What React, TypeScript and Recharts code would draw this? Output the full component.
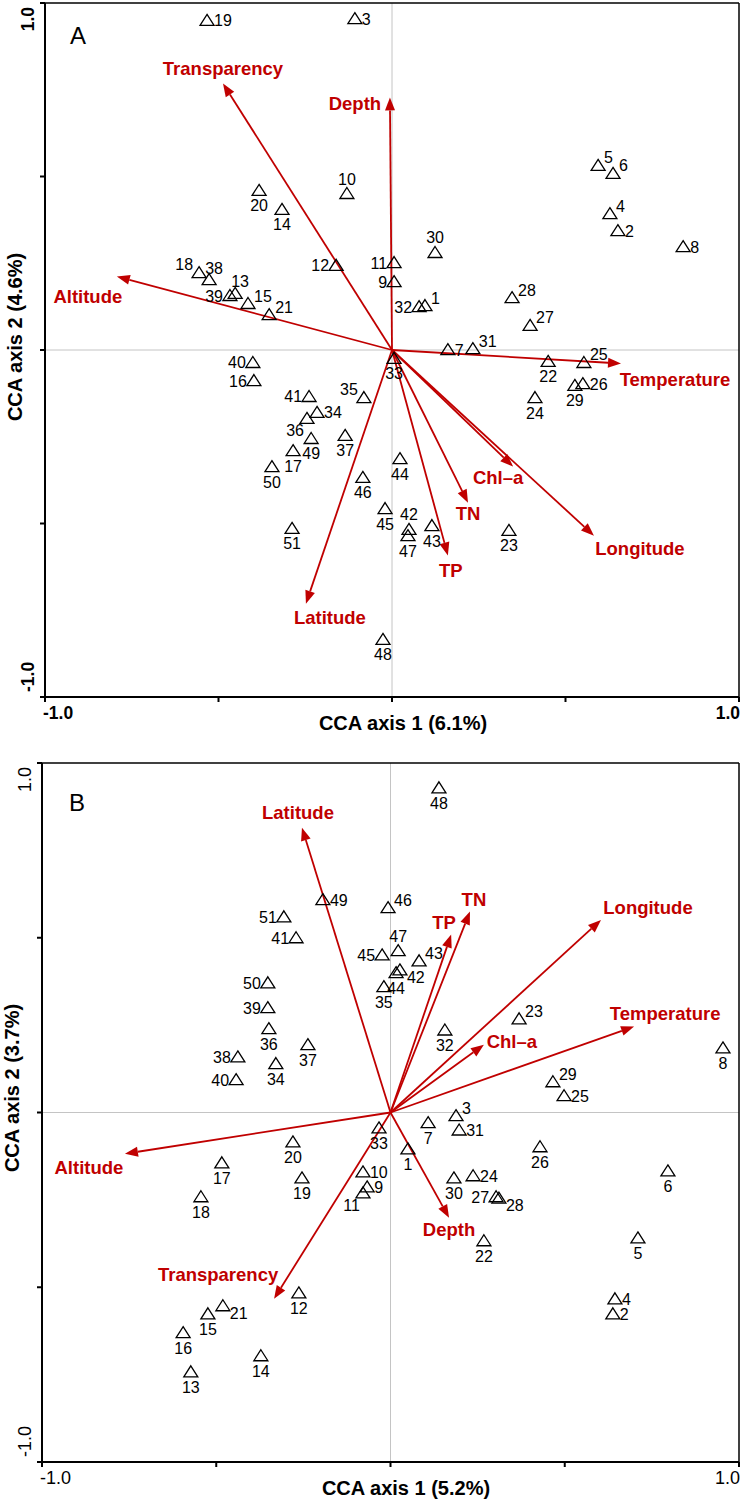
import { ScatterChart, Scatter, XAxis, YAxis, ReferenceLine } from 'recharts';

// CCA site scores, sites 1..51
const sites = [
  1, 2, 3, 4, 5, 6, 7, 8, 9, 10, 11, 12, 13, 14, 15, 16, 17, 18, 19, 20, 21, 22, 23, 24, 25, 26,
  27, 28, 29, 30, 31, 32, 33, 34, 35, 36, 37, 38, 39, 40, 41, 42, 43, 44, 45, 46, 47, 48, 49, 50, 51,
];

// panel A
const axis1A = [
  0.095, 0.651, -0.107, 0.628, 0.594, 0.637, 0.161, 0.839, 0.006, -0.13, 0.006, -0.161, -0.452,
  -0.317, -0.415, -0.398, -0.285, -0.556, -0.533, -0.383, -0.354, 0.45, 0.337, 0.412, 0.553, 0.55,
  0.398, 0.346, 0.527, 0.124, 0.233, 0.078, 0.006, -0.216, -0.081, -0.245, -0.135, -0.527, -0.467,
  -0.401, -0.239, 0.049, 0.115, 0.023, -0.02, -0.084, 0.046, -0.026, -0.233, -0.346, -0.288,
];
const axis2A = [
  0.128, 0.344, 0.955, 0.393, 0.532, 0.509, 0.001, 0.298, 0.197, 0.451, 0.252, 0.244, 0.163, 0.405,
  0.134, -0.088, -0.29, 0.223, 0.95, 0.46, 0.102, -0.033, -0.52, -0.137, -0.036, -0.097, 0.071,
  0.151, -0.102, 0.281, 0.004, 0.125, -0.024, -0.18, -0.137, -0.197, -0.246, 0.203, 0.157, -0.036,
  -0.134, -0.517, -0.506, -0.313, -0.457, -0.367, -0.535, -0.834, -0.255, -0.336, -0.514,
];

// panel B
const axis1B = [
  0.05, 0.638, 0.188, 0.644, 0.71, 0.796, 0.108, 0.954, -0.067, -0.079, -0.079, -0.263, -0.573,
  -0.372, -0.524, -0.595, -0.484, -0.544, -0.254, -0.28, -0.481, 0.268, 0.369, 0.237, 0.498, 0.429,
  0.303, 0.311, 0.466, 0.182, 0.197, 0.156, -0.033, -0.329, -0.019, -0.349, -0.237, -0.438, -0.352,
  -0.443, -0.271, 0.027, 0.082, 0.016, -0.024, -0.007, 0.022, 0.139, -0.194, -0.352, -0.306,
];
const axis2B = [
  -0.104, -0.576, -0.009, -0.533, -0.359, -0.167, -0.029, 0.185, -0.213, -0.17, -0.23, -0.516,
  -0.742, -0.696, -0.576, -0.63, -0.144, -0.241, -0.187, -0.084, -0.553, -0.367, 0.268, -0.181,
  0.048, -0.098, -0.241, -0.245, 0.088, -0.187, -0.05, 0.236, -0.044, 0.14, 0.36, 0.24, 0.194,
  0.159, 0.3, 0.094, 0.5, 0.408, 0.434, 0.4, 0.451, 0.586, 0.463, 0.929, 0.609, 0.371, 0.56,
];

// environmental variables (biplot arrows)
const envVars = ['Altitude', 'Transparency', 'Depth', 'Temperature', 'Chl–a', 'TN', 'TP', 'Longitude', 'Latitude'];
const envAxis1A = [-0.793, -0.487, -0.006, 0.66, 0.349, 0.219, 0.161, 0.582, -0.248];
const envAxis2A = [0.212, 0.768, 0.728, -0.039, -0.336, -0.44, -0.592, -0.535, -0.731];
const envAxis1B = [-0.762, -0.334, 0.168, 0.699, 0.268, 0.228, 0.174, 0.604, -0.254];
const envAxis2B = [-0.118, -0.533, -0.301, 0.246, 0.194, 0.575, 0.509, 0.551, 0.815];

const ticks = [-1, -0.5, 0, 0.5, 1];
const tickText = ['-1.0', '', '', '', '1.0'];

const RED = '#c00000';
const FONT = 'Liberation Sans, Arial, sans-serif';

// label placement around each triangle
const OFF: Record<string, { dx: number; dy: number; anchor: 'start' | 'middle' | 'end' }> = {
  r: { dx: 7, dy: 6, anchor: 'start' },
  l: { dx: -7, dy: 6, anchor: 'end' },
  a: { dx: 0, dy: -9, anchor: 'middle' },
  b: { dx: 0, dy: 21, anchor: 'middle' },
  ar: { dx: 6, dy: -2, anchor: 'start' },
  ac: { dx: -4, dy: -6, anchor: 'start' },
  al: { dx: -6, dy: -3, anchor: 'end' },
  br: { dx: 7, dy: 13, anchor: 'start' },
  bl: { dx: -3, dy: 18, anchor: 'end' },
};

const posA: Record<number, string> = {
  1: 'ar', 2: 'r', 3: 'r', 4: 'ar', 5: 'ar', 6: 'ar', 7: 'r', 8: 'r', 9: 'l', 10: 'a', 11: 'l', 12: 'l',
  13: 'ac', 14: 'b', 15: 'ar', 16: 'l', 17: 'b', 18: 'al', 19: 'r', 20: 'b', 21: 'ar', 22: 'b', 23: 'b',
  24: 'b', 25: 'ar', 26: 'r', 27: 'ar', 28: 'ar', 29: 'b', 30: 'a', 31: 'ar', 32: 'l', 33: 'b', 34: 'r',
  35: 'al', 36: 'bl', 37: 'b', 38: 'ac', 39: 'l', 40: 'l', 41: 'l', 42: 'a', 43: 'b', 44: 'b', 45: 'b',
  46: 'b', 47: 'b', 48: 'b', 49: 'b', 50: 'b', 51: 'b',
};
const posB: Record<number, string> = {
  1: 'b', 2: 'r', 3: 'ar', 4: 'r', 5: 'b', 6: 'b', 7: 'b', 8: 'b', 9: 'r', 10: 'r', 11: 'bl', 12: 'b',
  13: 'b', 14: 'b', 15: 'b', 16: 'b', 17: 'b', 18: 'b', 19: 'b', 20: 'b', 21: 'br', 22: 'b', 23: 'ar',
  24: 'r', 25: 'r', 26: 'b', 27: 'l', 28: 'br', 29: 'ar', 30: 'b', 31: 'r', 32: 'b', 33: 'b', 34: 'b',
  35: 'b', 36: 'b', 37: 'b', 38: 'l', 39: 'l', 40: 'l', 41: 'l', 42: 'br', 43: 'ar', 44: 'b', 45: 'l',
  46: 'ar', 47: 'a', 48: 'b', 49: 'r', 50: 'l', 51: 'l',
};

// arrow label centre relative to arrow tip
const envOffA: Record<string, [number, number]> = {
  Altitude: [-29, 20], Transparency: [0, -15], Depth: [-35, 6], Temperature: [54, 16],
  'Chl–a': [-15, 11], TN: [0, 11], TP: [3, 15], Longitude: [46, 13], Latitude: [24, 14],
};
const envOffB: Record<string, [number, number]> = {
  Altitude: [-36, 14], Transparency: [-56, -24], Depth: [0, 12], Temperature: [31, -13],
  'Chl–a': [28, -3], TN: [4, -12], TP: [-7, -12], Longitude: [47, -12], Latitude: [-4, -15],
};

function arrowShape(label: string, off: [number, number]) {
  return (p: any) => {
    const { x1, y1, x2, y2 } = p;
    const ang = Math.atan2(y2 - y1, x2 - x1);
    const len = 13;
    const hw = 5;
    const bx = x2 - len * Math.cos(ang);
    const by = y2 - len * Math.sin(ang);
    const nx = -Math.sin(ang) * hw;
    const ny = Math.cos(ang) * hw;
    return (
      <g>
        <line x1={x1} y1={y1} x2={bx} y2={by} stroke={RED} strokeWidth={1.8} />
        <polygon points={`${x2},${y2} ${bx + nx},${by + ny} ${bx - nx},${by - ny}`} fill={RED} />
        <text x={x2 + off[0]} y={y2 + off[1] + 6.5} textAnchor="middle" fill={RED}
          fontFamily={FONT} fontWeight="bold" fontSize={18.5}>{label}</text>
      </g>
    );
  };
}

function siteShape(pos: Record<number, string>) {
  return (p: any) => {
    const { cx, cy, payload } = p;
    const o = OFF[pos[payload.id]] || OFF.r;
    return (
      <g>
        <polygon points={`${cx},${cy - 6} ${cx + 7},${cy + 5} ${cx - 7},${cy + 5}`}
          fill="none" stroke="#000" strokeWidth={1.3} />
        <text x={cx + o.dx} y={cy + o.dy} textAnchor={o.anchor} fontFamily={FONT} fontSize={16} fill="#000">
          {payload.id}
        </text>
      </g>
    );
  };
}

interface PanelProps {
  letter: string;
  xTitle: string;
  yTitle: string;
  ax1: number[];
  ax2: number[];
  env1: number[];
  env2: number[];
  pos: Record<number, string>;
  envOff: Record<string, [number, number]>;
  bold: boolean;
  height: number;
  top: number;
  left: number;
  bottom: number;
  letterPos: [number, number];
  xTitlePos: [number, number];
  yTitlePos: [number, number];
}

function Panel(props: PanelProps) {
  const { ax1, ax2, env1, env2, bold } = props;
  const data = sites.map((id, i) => ({ id, x: ax1[i], y: ax2[i] }));
  const tickFont = { fontFamily: FONT, fontSize: bold ? 17.5 : 18, fontWeight: bold ? 'bold' : 'normal' };

  const xTick = (p: any) => {
    const i = ticks.indexOf(p.payload.value);
    if (!tickText[i]) return <g />;
    const first = i === 0;
    return (
      <text x={p.x + (first ? -2 : 1)} y={p.y + 15} textAnchor={first ? 'start' : 'end'} fill="#000" {...tickFont}>
        {tickText[i]}
      </text>
    );
  };
  const yTick = (p: any) => {
    const i = ticks.indexOf(p.payload.value);
    if (!tickText[i]) return <g />;
    const first = i === 0;
    const x = p.x - 4;
    const y = first ? p.y - 5 : p.y + 4;
    return (
      <text x={x} y={y} transform={`rotate(-90 ${x} ${y})`} textAnchor={first ? 'start' : 'end'} fill="#000" {...tickFont}>
        {tickText[i]}
      </text>
    );
  };

  return (
    <ScatterChart width={742} height={props.height} margin={{ top: props.top, right: 3, bottom: 0, left: 0 }}>
      <XAxis type="number" dataKey="x" domain={[-1, 1]} ticks={ticks} interval={0} height={props.bottom}
        axisLine={{ stroke: '#000', strokeWidth: 2 }} tickLine={{ stroke: '#000', strokeWidth: 2 }}
        tickSize={5} tick={xTick} />
      <YAxis type="number" dataKey="y" domain={[-1, 1]} ticks={ticks} interval={0} width={props.left}
        axisLine={{ stroke: '#000', strokeWidth: 2 }} tickLine={{ stroke: '#000', strokeWidth: 2 }}
        tickSize={5} tick={yTick} />
      <ReferenceLine x={0} stroke="#c4c4c4" strokeWidth={1} />
      <ReferenceLine y={0} stroke="#c4c4c4" strokeWidth={1} />
      <ReferenceLine x={1} stroke="#000" strokeWidth={1.5} />
      <ReferenceLine y={1} stroke="#000" strokeWidth={1.5} />
      {envVars.map((v, i) => (
        <ReferenceLine key={v} segment={[{ x: 0, y: 0 }, { x: env1[i], y: env2[i] }]}
          shape={arrowShape(v, props.envOff[v])} />
      ))}
      <Scatter data={data} isAnimationActive={false} shape={siteShape(props.pos)} />
      <text x={props.letterPos[0]} y={props.letterPos[1]} fontFamily={FONT} fontSize={24} fill="#000">
        {props.letter}
      </text>
      <text x={props.xTitlePos[0]} y={props.xTitlePos[1]} textAnchor="middle" fontFamily={FONT}
        fontWeight="bold" fontSize={20} fill="#000">{props.xTitle}</text>
      <text x={props.yTitlePos[0]} y={props.yTitlePos[1]} textAnchor="middle" fontFamily={FONT}
        fontWeight="bold" fontSize={20} fill="#000"
        transform={`rotate(-90 ${props.yTitlePos[0]} ${props.yTitlePos[1]})`}>{props.yTitle}</text>
    </ScatterChart>
  );
}

export default function App() {
  return (
    <div style={{ position: 'absolute', left: 0, top: 0, width: 742, height: 1502, background: '#fff' }}>
      <Panel letter="A" xTitle="CCA axis 1 (6.1%)" yTitle="CCA axis 2 (4.6%)"
        ax1={axis1A} ax2={axis2A} env1={envAxis1A} env2={envAxis2A} pos={posA} envOff={envOffA}
        bold height={745} top={3} left={45} bottom={48}
        letterPos={[70, 44]} xTitlePos={[403, 730]} yTitlePos={[22, 337]} />
      <Panel letter="B" xTitle="CCA axis 1 (5.2%)" yTitle="CCA axis 2 (3.7%)"
        ax1={axis1B} ax2={axis2B} env1={envAxis1B} env2={envAxis2B} pos={posB} envOff={envOffB}
        bold={false} height={757} top={18} left={42} bottom={40}
        letterPos={[69, 66]} xTitlePos={[406, 750]} yTitlePos={[19, 343]} />
    </div>
  );
}
